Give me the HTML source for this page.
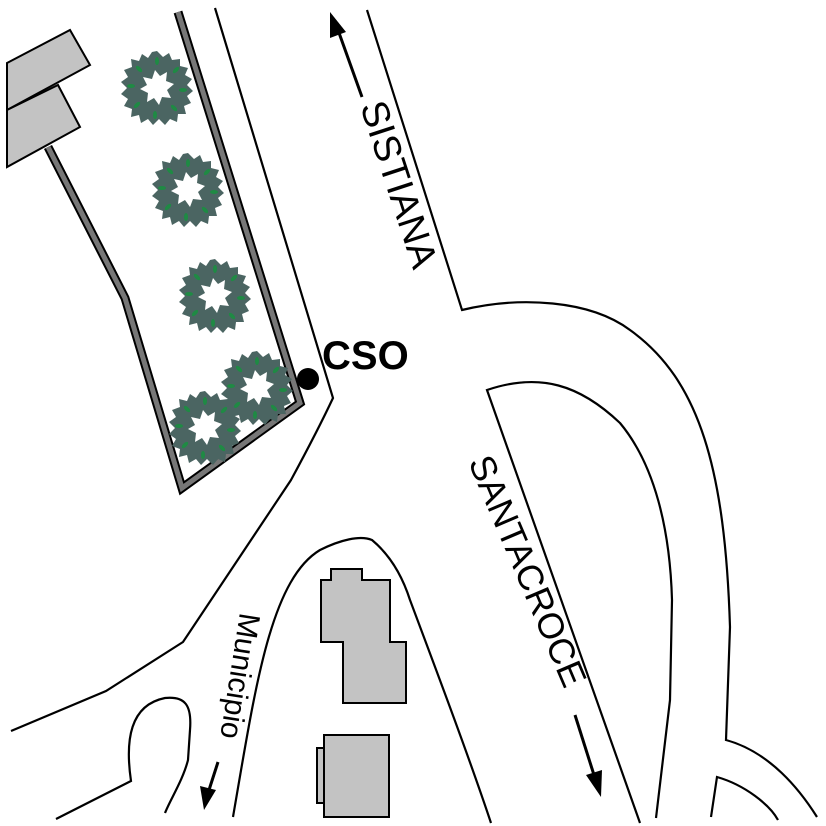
<!DOCTYPE html>
<html><head><meta charset="utf-8"><style>html,body{margin:0;padding:0;background:#fff}svg{display:block}</style></head>
<body>
<svg width="826" height="826" viewBox="0 0 826 826" xmlns="http://www.w3.org/2000/svg">
<defs>
<g id="tree">
<polygon fill="#4b6562" points="0,-37 6,-31 12,-35 15,-28 23,-29 23,-22 31,-20 28,-13 35,-9 30,-3 36,3 30,8 34,15 27,18 29,26 21,26 20,34 13,31 8,37 2,31 -4,37 -9,31 -16,35 -18,27 -26,29 -25,21 -33,18 -29,11 -36,6 -30,0 -36,-6 -29,-11 -33,-18 -25,-21 -26,-29 -18,-27 -15,-34 -9,-30 -5,-36"/>
<polygon fill="#fff" points="-2,-18 3,-12 10,-16 9,-7 17,-4 10,2 14,10 5,9 2,17 -3,10 -10,14 -9,5 -17,1 -10,-3 -14,-11 -5,-9"/>
<g fill="#1f8a44">
<ellipse cx="0" cy="-27" rx="2" ry="4"/><ellipse cx="19" cy="-18" rx="2" ry="4" transform="rotate(45 19 -18)"/><ellipse cx="26" cy="2" rx="4" ry="2"/><ellipse cx="17" cy="20" rx="2" ry="4" transform="rotate(-45 17 20)"/><ellipse cx="-2" cy="27" rx="2" ry="4"/><ellipse cx="-20" cy="17" rx="2" ry="4" transform="rotate(45 -20 17)"/><ellipse cx="-26" cy="-2" rx="4" ry="2"/><ellipse cx="-18" cy="-19" rx="2" ry="4" transform="rotate(-45 -18 -19)"/>
</g>
</g>
</defs>
<g fill="none" stroke="#000" stroke-width="2.2">
<path d="M215,8 L333,398 Q318,430 291,480 L183,642 L106,691 L11,731"/>
<path d="M367,10 L462,310 C520,296 590,300 630,330 C700,380 725,470 730,627 L726,740 C770,752 800,790 817,817"/>
<path d="M56,819 L131,781 C125,740 130,705 165,698 C185,696 192,705 190,730 L188,760 C183,780 170,800 165,813"/>
<path d="M233,817 C255,690 270,580 320,550 C340,540 360,535 372,540 C390,555 402,575 410,600 C440,680 470,760 491,823"/>
<path d="M640,823 L487,390 C540,372 580,385 620,423 C655,465 670,530 672,600 L670,700 L656,818"/>
<path d="M711,817 L717,777 C745,785 770,805 778,820"/>
</g>
<path d="M178,12 L300,403 L182,488 L125,298 L48,147" fill="none" stroke="#000" stroke-width="9" stroke-linejoin="miter"/>
<path d="M178,12 L300,403 L182,488 L125,298 L48,147" fill="none" stroke="#777" stroke-width="5" stroke-linejoin="miter"/>
<g fill="#c3c3c3" stroke="#000" stroke-width="2">
<polygon points="7,63 70,30 90,65 7,110"/>
<polygon points="7,110 58,85 80,127 7,167"/>
<polygon points="321,580 331,580 331,569 362,569 362,580 390,580 390,642 406,642 406,703 343,703 343,642 321,642"/>
<rect x="317" y="748" width="8" height="55"/>
<rect x="324" y="735" width="65" height="82"/>
</g>
<use href="#tree" x="157" y="88"/>
<use href="#tree" x="188" y="190"/>
<use href="#tree" x="215" y="296"/>
<use href="#tree" x="257" y="388"/>
<use href="#tree" x="205" y="428"/>
<circle cx="308" cy="379" r="11" fill="#000"/>
<text x="322" y="369" font-family="Liberation Sans, sans-serif" font-weight="bold" font-size="40">CSO</text>
<g font-family="Liberation Sans, sans-serif" fill="#000">
<text transform="translate(360,106) rotate(72)" font-size="38">SISTIANA</text>
<text transform="translate(468,462) rotate(67)" font-size="36">SANTACROCE</text>
<text transform="translate(240,612) rotate(99)" font-size="30">Municipio</text>
</g>
<g stroke="#000" stroke-width="3">
<line x1="362" y1="97" x2="338" y2="30"/>
<line x1="575" y1="715" x2="594" y2="775"/>
<line x1="218" y1="762" x2="209" y2="790"/>
</g>
<g fill="#000">
<polygon points="330,12 330,38 346,32"/>
<polygon points="601,797 586,775 602,770"/>
<polygon points="204,810 200,786 216,790"/>
</g>
</svg>
</body></html>
